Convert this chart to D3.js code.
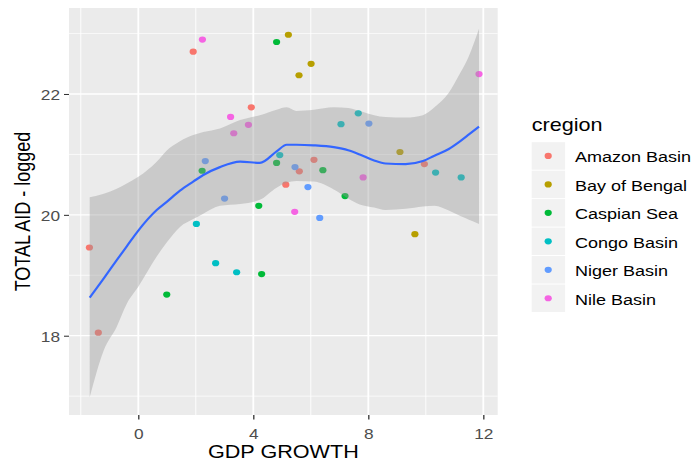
<!DOCTYPE html>
<html>
<head>
<meta charset="utf-8">
<script src="https://cdn.jsdelivr.net/npm/d3@7"></script>
<style>
  html, body { margin: 0; padding: 0; background: #ffffff; }
  svg { display: block; font-family: "Liberation Sans", Arial, Helvetica, sans-serif; }
</style>
</head>
<body>
<svg id="chart" width="694" height="464"></svg>
<script>
// Regions (legend order)
const regions = ["Amazon Basin", "Bay of Bengal", "Caspian Sea", "Congo Basin", "Niger Basin", "Nile Basin"];

// Country observations: GDP growth, logged total aid, region
const gdpGrowth = [
  1.91, 3.93, 6.11, 5.60, 5.13, 9.95, -1.70, -1.39,
  5.22, 6.01, 5.59, 9.10, 9.62,
  2.22, 4.81, 4.81, 6.42, 7.19, 4.19, 0.99, 4.29,
  7.65, 7.05, 4.92, 10.34, 11.23, 2.02, 2.69, 3.42,
  2.33, 5.45, 5.90, 3.00, 8.02, 6.31,
  2.23, 3.21, 3.83, 3.32, 7.82, 11.85, 5.44
];
const totalAidLogged = [
  22.70, 21.78, 20.91, 20.72, 20.50, 20.84, 19.46, 18.05,
  22.98, 22.50, 22.31, 21.04, 19.68,
  20.73, 22.86, 20.86, 20.74, 20.31, 20.15, 18.68, 19.02,
  21.68, 21.50, 20.99, 20.70, 20.62, 19.85, 19.20, 19.05,
  20.89, 20.79, 20.46, 20.27, 21.51, 19.95,
  22.90, 21.62, 21.49, 21.35, 20.62, 22.33, 20.05
];
const regionOf = [
  "Amazon Basin", "Amazon Basin", "Amazon Basin", "Amazon Basin", "Amazon Basin", "Amazon Basin", "Amazon Basin", "Amazon Basin",
  "Bay of Bengal", "Bay of Bengal", "Bay of Bengal", "Bay of Bengal", "Bay of Bengal",
  "Caspian Sea", "Caspian Sea", "Caspian Sea", "Caspian Sea", "Caspian Sea", "Caspian Sea", "Caspian Sea", "Caspian Sea",
  "Congo Basin", "Congo Basin", "Congo Basin", "Congo Basin", "Congo Basin", "Congo Basin", "Congo Basin", "Congo Basin",
  "Niger Basin", "Niger Basin", "Niger Basin", "Niger Basin", "Niger Basin", "Niger Basin",
  "Nile Basin", "Nile Basin", "Nile Basin", "Nile Basin", "Nile Basin", "Nile Basin", "Nile Basin"
];

// Loess smooth with its confidence band
const smoothX     = [-1.69, -1.2, -0.75, -0.4, 0, 0.64, 1.0, 1.45, 1.91, 2.26, 2.84, 3.54, 4.23, 4.81, 5.16, 5.5, 6.1, 6.8, 7.3, 7.7, 8.2, 8.6, 9.3, 9.9, 10.3, 10.8, 11.2, 11.5, 11.85];
const smoothFit   = [18.63, 18.95, 19.25, 19.48, 19.74, 20.08, 20.22, 20.40, 20.55, 20.66, 20.79, 20.88, 20.86, 21.05, 21.16, 21.16, 21.15, 21.12, 21.07, 21.00, 20.90, 20.85, 20.84, 20.89, 20.98, 21.09, 21.22, 21.33, 21.46];
const smoothLower = [16.98, 17.76, 18.15, 18.53, 18.81, 19.31, 19.55, 19.80, 19.93, 20.02, 20.15, 20.18, 20.25, 20.45, 20.53, 20.56, 20.55, 20.42, 20.27, 20.17, 20.12, 20.08, 20.10, 20.14, 20.15, 20.07, 19.98, 19.92, 19.85];
const smoothUpper = [20.29, 20.35, 20.43, 20.52, 20.63, 20.88, 21.07, 21.22, 21.32, 21.37, 21.43, 21.57, 21.65, 21.74, 21.78, 21.72, 21.74, 21.78, 21.77, 21.72, 21.65, 21.62, 21.61, 21.65, 21.78, 22.02, 22.35, 22.63, 23.08];

// Axis ticks
const xMajor = [0, 4, 8, 12];
const xMinor = [-2, 2, 6, 10];
const yMajor = [18, 20, 22];
const yMinor = [17, 19, 21, 23];

const palette = ["#F8766D", "#B79F00", "#00BA38", "#00BFC4", "#619CFF", "#F564E3"];

// Text in this figure is rendered slightly wide
const SX = 1.2;

const svg = d3.select("#chart");
const panel = { left: 69, right: 497.7, top: 8, bottom: 415 };

const x = d3.scaleLinear().domain([-2.41, 12.5]).range([panel.left, panel.right]);
const y = d3.scaleLinear().domain([16.688, 23.423]).range([panel.bottom, panel.top]);
const color = d3.scaleOrdinal().domain(regions).range(palette);

// Panel background
svg.append("rect")
  .attr("x", panel.left).attr("y", panel.top)
  .attr("width", panel.right - panel.left).attr("height", panel.bottom - panel.top)
  .attr("fill", "#EBEBEB");

const grid = svg.append("g");
grid.selectAll(".vminor").data(xMinor).join("line")
  .attr("x1", d => x(d)).attr("x2", d => x(d))
  .attr("y1", panel.top).attr("y2", panel.bottom)
  .attr("stroke", "#ffffff").attr("stroke-width", 0.9);
grid.selectAll(".hminor").data(yMinor).join("line")
  .attr("x1", panel.left).attr("x2", panel.right)
  .attr("y1", d => y(d)).attr("y2", d => y(d))
  .attr("stroke", "#ffffff").attr("stroke-width", 0.7);
grid.selectAll(".vmajor").data(xMajor).join("line")
  .attr("x1", d => x(d)).attr("x2", d => x(d))
  .attr("y1", panel.top).attr("y2", panel.bottom)
  .attr("stroke", "#ffffff").attr("stroke-width", 1.8);
grid.selectAll(".hmajor").data(yMajor).join("line")
  .attr("x1", panel.left).attr("x2", panel.right)
  .attr("y1", d => y(d)).attr("y2", d => y(d))
  .attr("stroke", "#ffffff").attr("stroke-width", 1.3);

// Points
const points = gdpGrowth.map((g, i) => ({ g, a: totalAidLogged[i], r: regionOf[i] }));
svg.append("g").selectAll("ellipse").data(points).join("ellipse")
  .attr("cx", d => x(d.g)).attr("cy", d => y(d.a))
  .attr("rx", 3.6).attr("ry", 3.1)
  .attr("fill", d => color(d.r));

// Confidence band and smooth line
const band = smoothX.map((sx, i) => ({ x: sx, lo: smoothLower[i], hi: smoothUpper[i], fit: smoothFit[i] }));
svg.append("path").datum(band)
  .attr("d", d3.area().curve(d3.curveMonotoneX).x(d => x(d.x)).y0(d => y(d.lo)).y1(d => y(d.hi)))
  .attr("fill", "#999999").attr("fill-opacity", 0.4);
svg.append("path").datum(band)
  .attr("d", d3.line().curve(d3.curveMonotoneX).x(d => x(d.x)).y(d => y(d.fit)))
  .attr("fill", "none").attr("stroke", "#3366FF").attr("stroke-width", 2.2);

// Axes
const xAxis = svg.append("g").attr("transform", `translate(0,${panel.bottom})`)
  .call(d3.axisBottom(x).tickValues(xMajor).tickSize(4.5).tickPadding(0).tickFormat(d3.format("d")));
const yAxis = svg.append("g").attr("transform", `translate(${panel.left},0)`)
  .call(d3.axisLeft(y).tickValues(yMajor).tickSize(5).tickPadding(0).tickFormat(d3.format("d")));

[xAxis, yAxis].forEach(ax => {
  ax.select(".domain").remove();
  ax.selectAll(".tick line").attr("stroke", "#333333");
  ax.selectAll(".tick text")
    .attr("fill", "#4D4D4D")
    .attr("font-size", 14.4)
    .attr("font-family", "Liberation Sans, Arial, sans-serif")
    .attr("transform", `scale(${SX},1)`);
});
xAxis.selectAll(".tick line").attr("stroke-width", 1.3);
yAxis.selectAll(".tick line").attr("stroke-width", 1.05);
xAxis.selectAll(".tick text").attr("y", 13.5).attr("dy", "0.71em");
yAxis.selectAll(".tick text").attr("x", -7.5).attr("dy", "0.4em");

// Axis titles
svg.append("text")
  .attr("transform", `translate(${(panel.left + panel.right) / 2},458) scale(${SX},1)`)
  .attr("text-anchor", "middle").attr("font-size", 18).attr("fill", "#000000")
  .text("GDP GROWTH");
svg.append("text")
  .attr("transform", `translate(30,${(panel.top + panel.bottom) / 2}) scale(${SX},1) rotate(-90)`)
  .attr("text-anchor", "middle").attr("font-size", 18).attr("fill", "#000000")
  .text("TOTAL AID - logged");

// Legend
const legend = svg.append("g");
legend.append("text")
  .attr("transform", `translate(531.7,131) scale(${SX},1)`)
  .attr("font-size", 18).attr("fill", "#000000")
  .text("cregion");

const keyY = d3.scaleBand().domain(regions).range([142.2, 142.2 + 28.3 * regions.length]).paddingInner(0.035);
const keys = legend.selectAll(".key").data(regions).join("g")
  .attr("transform", d => `translate(531.7,${keyY(d)})`);
keys.append("rect")
  .attr("width", 33.4).attr("height", keyY.bandwidth())
  .attr("fill", "#F2F2F2");
keys.append("ellipse")
  .attr("cx", 16.5).attr("cy", keyY.bandwidth() / 2)
  .attr("rx", 3.6).attr("ry", 3.1)
  .attr("fill", d => color(d));
keys.append("text")
  .attr("transform", `translate(43.3,${keyY.bandwidth() / 2 + 6.3}) scale(${SX},1)`)
  .attr("font-size", 15).attr("fill", "#000000")
  .text(d => d);
</script>
</body>
</html>
